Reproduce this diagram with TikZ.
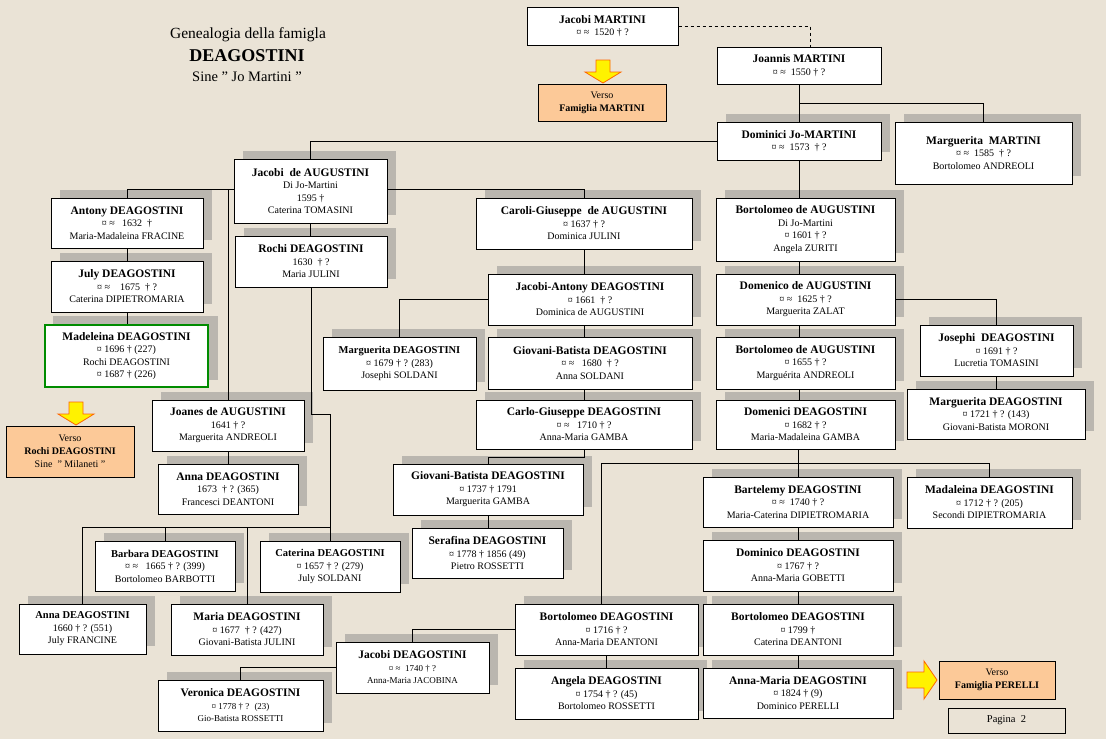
\documentclass[tikz,border=0pt]{standalone}
\usepackage{fontspec}
\setmainfont{Liberation Serif}
\usetikzlibrary{calc}
\pgfdeclarelayer{bg}\pgfdeclarelayer{mid}
\pgfsetlayers{bg,mid,main}
\definecolor{bgc}{RGB}{234,227,214}
\definecolor{shad}{RGB}{186,182,175}
\definecolor{orng}{RGB}{252,201,152}
\tikzset{
 box/.style={draw=black, line width=1pt, fill=white, inner sep=0pt, align=center,
   font=\fontsize{10}{12.5}\selectfont},
 ln/.style={line width=0.8pt},
 verso/.style={draw=black, line width=0.8pt, fill=orng, inner sep=0pt, align=center,
   font=\fontsize{10}{13}\selectfont},
 yarrow/.style={fill=yellow, draw=orange!80!red, line width=0.8pt}
}
\newcommand\bx[6]{%
 \begin{pgfonlayer}{bg}\fill[shad] (#2+9,#3-8) rectangle (#4+9,#5-8);\end{pgfonlayer}
 \node[box, minimum width={(#4-#2)*1pt}, minimum height={(#5-#3)*1pt}] (#1) at ({(#2+#4)/2},{(#3+#5)/2}) {#6};}
\newcommand\nm[1]{{\fontsize{11.5}{13}\selectfont\bfseries #1}}
\begin{document}
\begin{tikzpicture}[x=1pt,y=-1pt]
\begin{pgfonlayer}{bg}\fill[bgc] (0,0) rectangle (1106,739);\end{pgfonlayer}
\useasboundingbox (0,0) rectangle (1106,739);
% title
\node[font=\fontsize{15.5}{17}\selectfont] (t1) at (248,35) {Genealogia della famigla};
\node[font=\fontsize{18}{19}\selectfont\bfseries] (t2) at (247,56) {DEAGOSTINI};
\node[font=\fontsize{14.5}{16}\selectfont] (t3) at (247,77) {Sine " Jo Martini "};
% boxes
\node[box, minimum width=151pt, minimum height=38pt] (JacM) at (602.5,26) {\nm{Jacobi MARTINI}\\¤ ≈ \ 1520 † ?};
\node[box, minimum width=164pt, minimum height=37pt] (JoM) at (799,65.5) {\nm{Joannis MARTINI}\\¤ ≈ \ 1550 † ?};
\bx{DomJM}{717}{122}{881}{160}{\nm{Dominici Jo-MARTINI}\\¤ ≈ \ 1573 \ † ?}
\bx{MargM}{895}{122}{1072}{184}{\nm{Marguerita \ MARTINI}\\¤ ≈ \ 1585 \ † ?\\Bortolomeo ANDREOLI}
\bx{JacA}{234}{159}{387}{223}{\nm{Jacobi \ de AUGUSTINI}\\Di Jo-Martini\\1595 †\\Caterina TOMASINI}
\bx{Ant}{51}{198}{203}{248}{\nm{Antony DEAGOSTINI}\\¤ ≈ \ \ 1632 \ †\\Maria-Madaleina FRACINE}
\bx{Jul}{51}{261}{203}{312}{\nm{July DEAGOSTINI}\\¤ ≈ \ \ \ 1675 \ † ?\\Caterina DIPIETROMARIA}
\bx{RoD}{235}{236}{387}{287}{\nm{Rochi DEAGOSTINI}\\1630 \ † ?\\Maria JULINI}
\bx{Car}{476}{198}{692}{249}{\nm{Caroli-Giuseppe \ de AUGUSTINI}\\¤ 1637 † ?\\Dominica JULINI}
\bx{BA1}{716}{198}{895}{261}{\nm{Bortolomeo de AUGUSTINI}\\Di Jo-Martini\\¤ 1601 † ?\\Angela ZURITI}
\bx{JAnt}{488}{274}{692}{325}{\nm{Jacobi-Antony DEAGOSTINI}\\¤ 1661 \ † ?\\Dominica de AUGUSTINI}
\bx{DomA}{716}{274}{895}{325}{\nm{Domenico de AUGUSTINI}\\¤ ≈ \ 1625 † ?\\Marguerita ZALAT}
\bx{MaD}{323}{337}{476}{390}{{\fontsize{10.5}{12}\selectfont\bfseries Marguerita DEAGOSTINI}\\¤ 1679 † ? (283)\\Josephi SOLDANI}
\bx{GB80}{488}{337}{692}{389}{\nm{Giovani-Batista DEAGOSTINI}\\¤ ≈ \ \ 1680 \ † ?\\Anna SOLDANI}
\bx{BA2}{716}{337}{895}{389}{\nm{Bortolomeo de AUGUSTINI}\\¤ 1655 † ?\\Marguérita ANDREOLI}
\bx{Jos}{920}{325}{1073}{376}{\nm{Josephi \ DEAGOSTINI}\\¤ 1691 † ?\\Lucretia TOMASINI}
\bx{MM}{907}{389}{1085}{439}{\nm{Marguerita DEAGOSTINI}\\¤ 1721 † ? (143)\\Giovani-Batista MORONI}
\bx{Carl}{476}{400}{692}{449}{\nm{Carlo-Giuseppe DEAGOSTINI}\\¤ ≈ \ \ 1710 † ?\\Anna-Maria GAMBA}
\bx{DomD}{716}{400}{895}{449}{\nm{Domenici DEAGOSTINI}\\¤ 1682 † ?\\Maria-Madaleina GAMBA}
\bx{Joa}{152}{400}{304}{451}{\nm{Joanes de AUGUSTINI}\\1641 † ?\\Marguerita ANDREOLI}
\bx{An73}{158}{464}{298}{514}{\nm{Anna DEAGOSTINI}\\1673 \ † ? (365)\\Francesci DEANTONI}
\bx{GB37}{393}{464}{583}{515}{\nm{Giovani-Batista DEAGOSTINI}\\¤ 1737 † 1791\\Marguerita GAMBA}
\bx{Bart}{703}{477}{893}{527}{\nm{Bartelemy DEAGOSTINI}\\¤ ≈ \ 1740 † ?\\Maria-Caterina DIPIETROMARIA}
\bx{Mad2}{907}{477}{1072}{528}{\nm{Madaleina DEAGOSTINI}\\¤ 1712 † ? (205)\\Secondi DIPIETROMARIA}
\bx{Ser}{412}{528}{563}{578}{\nm{Serafina DEAGOSTINI}\\¤ 1778 † 1856 (49)\\Pietro ROSSETTI}
\bx{Bar}{95}{541}{235}{591}{{\fontsize{10.5}{12}\selectfont\bfseries Barbara DEAGOSTINI}\\¤ ≈ \ \ 1665 † ? (399)\\Bortolomeo BARBOTTI}
\bx{Cat}{260}{541}{400}{592}{{\fontsize{10.5}{12}\selectfont\bfseries Caterina DEAGOSTINI}\\¤ 1657 † ? (279)\\July SOLDANI}
\bx{Dom}{703}{540}{893}{591}{\nm{Dominico DEAGOSTINI}\\¤ 1767 † ?\\Anna-Maria GOBETTI}
\bx{An60}{19}{604}{146}{654}{{\fontsize{10.5}{12}\selectfont\bfseries Anna DEAGOSTINI}\\1660 † ? (551)\\July FRANCINE}
\bx{Mar}{171}{604}{323}{655}{\nm{Maria DEAGOSTINI}\\¤ 1677 \ † ? (427)\\Giovani-Batista JULINI}
\bx{BD16}{515}{604}{698}{655}{\nm{Bortolomeo DEAGOSTINI}\\¤ 1716 † ?\\Anna-Maria DEANTONI}
\bx{BD99}{703}{604}{893}{655}{\nm{Bortolomeo DEAGOSTINI}\\¤ 1799 †\\Caterina DEANTONI}
\bx{JD}{336}{642}{489}{693}{\nm{Jacobi DEAGOSTINI}\\{\fontsize{9}{11}\selectfont ¤ ≈ \ 1740 † ?}\\{\fontsize{9}{11}\selectfont Anna-Maria JACOBINA}}
\bx{Ver}{158}{680}{323}{731}{\nm{Veronica DEAGOSTINI}\\{\fontsize{9}{11}\selectfont ¤ 1778 † ? \ (23)}\\{\fontsize{9}{11}\selectfont Gio-Batista ROSSETTI}}
\bx{Ang}{515}{668}{698}{719}{\nm{Angela DEAGOSTINI}\\¤ 1754 † ? (45)\\Bortolomeo ROSSETTI}
\bx{AM}{703}{668}{893}{718}{\nm{Anna-Maria DEAGOSTINI}\\¤ 1824 † (9)\\Dominico PERELLI}
% Madeleina green
\begin{pgfonlayer}{bg}\fill[shad] (53,316) rectangle (218,380);\end{pgfonlayer}
\node[box, draw=green!55!black, line width=2pt, minimum width=163pt, minimum height=62pt] (Mad) at (126.5,356) {\nm{Madeleina DEAGOSTINI}\\¤ 1696 † (227)\\Rochi DEAGOSTINI\\¤ 1687 † (226)};
% verso boxes
\node[verso, minimum width=128pt, minimum height=37pt] (VM) at (602,102.5) {Verso\\\textbf{Famiglia MARTINI}};
\node[verso, minimum width=128pt, minimum height=51pt] (VR) at (70,451.5) {Verso\\\textbf{Rochi DEAGOSTINI}\\Sine \ " Milaneti "};
\node[verso, minimum width=116pt, minimum height=38pt] (VP) at (997,680) {Verso\\\textbf{Famiglia PERELLI}};
\node[draw=black, line width=0.8pt, minimum width=117pt, minimum height=25pt, font=\fontsize{10.5}{12}\selectfont] (Pg) at (1006.5,720.5) {Pagina \ 2};
% arrows
\draw[yarrow] (596,60) -- (610,60) -- (610,72) -- (621,72) -- (603,83) -- (585,72) -- (596,72) -- cycle;
\draw[yarrow] (69,402) -- (83,402) -- (83,414) -- (94,414) -- (76,425) -- (58,414) -- (69,414) -- cycle;
\draw[yarrow] (907,672) -- (924,672) -- (924,661) -- (937,680) -- (924,699) -- (924,688) -- (907,688) -- cycle;
% connectors
\begin{pgfonlayer}{mid}
\draw[ln, dashed] (JacM.east) -| ([xshift=11pt]JoM.north);
\draw[ln] (JoM.south) -- (DomJM.north);
\draw[ln] ([yshift=-19pt]JoM.south) -| (MargM.north);
\draw[ln] (DomJM.west) -| (JacA.north);
\draw[ln] (DomJM.south) -- (DomJM.south |- BA1.north);
\draw[ln] (DomJM.south |- BA1.south) -- (DomJM.south |- DomA.north);
\draw[ln] (DomJM.south |- DomA.south) -- (DomJM.south |- BA2.north);
\draw[ln] (DomJM.south |- BA2.south) -- (DomJM.south |- DomD.north);
\draw[ln] (DomA.east) -| (Jos.north);
\draw[ln] (Jos.south) -- (Jos.south |- MM.north);
\draw[ln] (Ant.north) -- ++(0,-8) -| (Car.north);
\draw[ln] (Ant.south) -- (Ant.south |- Jul.north);
\draw[ln] (Jul.south) -- (Jul.south |- Mad.north);
\draw[ln] (Joa.north) -- ++(0,-210);
\draw[ln] (Joa.south) -- (Joa.south |- An73.north);
\draw[ln] (JacA.south) -- (JacA.south |- RoD.north);
\draw[ln] (RoD.south) -- ++(0,127) -| (Cat.north);
\draw[ln] (An60.north) -- ++(0,-76) -| (Cat.north);
\draw[ln] (Bar.north) -- ++(0,-13);
\draw[ln] (Mar.north) -- ++(0,-76);
\draw[ln] (Car.south) -- (Car.south |- JAnt.north);
\draw[ln] (JAnt.west) -| (MaD.north);
\draw[ln] (Car.south |- JAnt.south) -- (Car.south |- GB80.north);
\draw[ln] (Car.south |- GB80.south) -- (Car.south |- Carl.north);
\draw[ln] (Car.south |- Carl.south) -- ++(0,8) -| (GB37.north);
\draw[ln] (GB37.south) -- (GB37.south |- Ser.north);
\draw[ln] ([xshift=-5pt]BD16.north) -- ++(0,-140) -| (Mad2.north);
\draw[ln] (Bart.north |- DomD.south) -- (Bart.north);
\draw[ln] (Bart.south) -- (Dom.north);
\draw[ln] (Dom.south) -- (BD99.north);
\draw[ln] (BD99.south) -- (AM.north);
\draw[ln] (BD16.west) -| (JD.north);
\draw[ln] (JD.west) -| (Ver.north);
\draw[ln] (BD16.south) -- (Ang.north);
\end{pgfonlayer}
\end{tikzpicture}
\end{document}
